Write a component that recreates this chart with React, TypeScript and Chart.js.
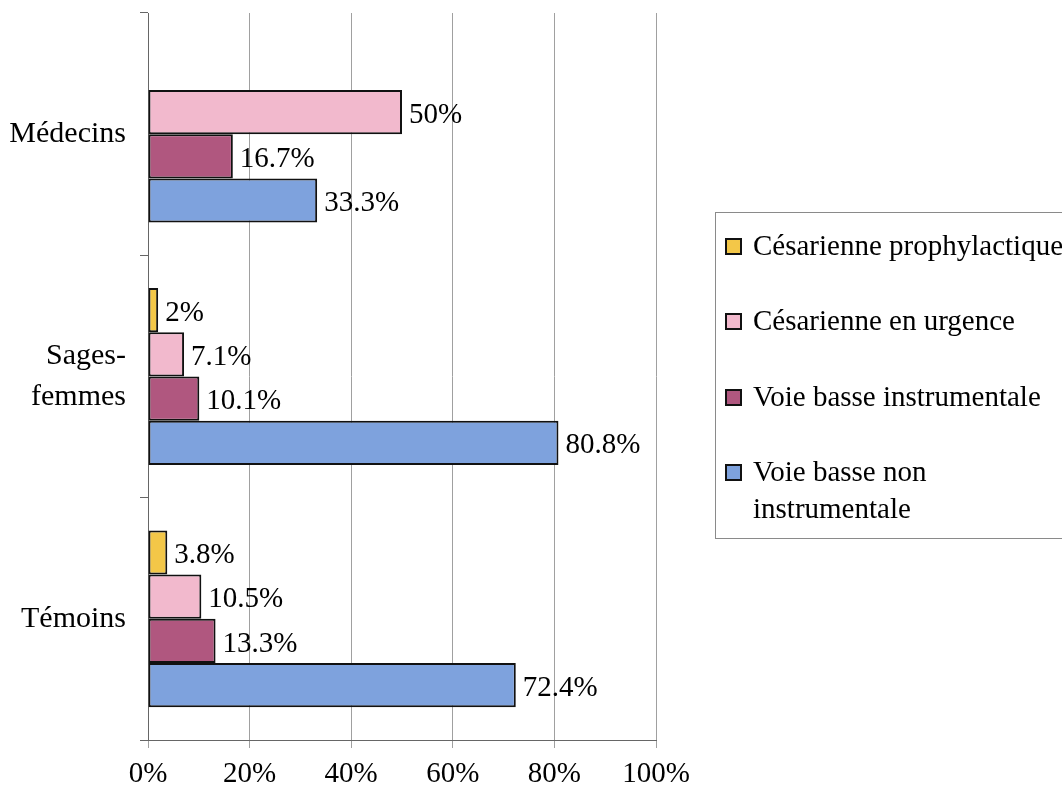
import React, { useEffect, useRef } from "react";
import { Chart, registerables } from "chart.js";

Chart.register(...registerables);

const categories: (string | string[])[] = ["Médecins", ["Sages-", "femmes"], "Témoins"];
const seriesNames = [
  "Césarienne prophylactique",
  "Césarienne en urgence",
  "Voie basse instrumentale",
  "Voie basse non instrumentale",
];
const legendLines: string[][] = [
  ["Césarienne prophylactique"],
  ["Césarienne en urgence"],
  ["Voie basse instrumentale"],
  ["Voie basse non", "instrumentale"],
];
const prophylactique = [0, 2, 3.8];
const urgence = [50, 7.1, 10.5];
const instrumentale = [16.7, 10.1, 13.3];
const nonInstrumentale = [33.3, 80.8, 72.4];
const xTicks = [0, 20, 40, 60, 80, 100];

const colors = ["#F3C748", "#F2B9CD", "#B0577F", "#7EA2DD"];
const FONT = "'Liberation Serif', 'Times New Roman', serif";
const FS = 29;

const labelPlugin = {
  id: "valueLabels",
  afterDatasetsDraw(chart: any) {
    const ctx = chart.ctx;
    ctx.save();
    ctx.font = `${FS}px ${FONT}`;
    ctx.fillStyle = "#000";
    ctx.textBaseline = "middle";
    ctx.textAlign = "left";
    chart.data.datasets.forEach((ds: any, di: number) => {
      const meta = chart.getDatasetMeta(di);
      meta.data.forEach((el: any, i: number) => {
        const v = ds.data[i];
        if (!v) return;
        ctx.fillText(`${v}%`, el.x + 7, el.y + 3);
      });
    });
    ctx.restore();
  },
};

const legendPlugin = {
  id: "boxLegend",
  afterDraw(chart: any) {
    const ctx = chart.ctx;
    ctx.save();
    ctx.strokeStyle = "#8a8a8a";
    ctx.lineWidth = 1;
    ctx.strokeRect(715.5, 212.5, 400, 326);
    ctx.font = `${FS}px ${FONT}`;
    ctx.textBaseline = "middle";
    ctx.textAlign = "left";
    const rowY = [247, 322, 398, 473];
    chart.data.datasets.forEach((ds: any, di: number) => {
      const y = rowY[di];
      ctx.fillStyle = ds.backgroundColor;
      ctx.fillRect(726, y - 8, 15, 15);
      ctx.strokeStyle = "#111";
      ctx.lineWidth = 2;
      ctx.strokeRect(726, y - 8, 15, 15);
      ctx.fillStyle = "#000";
      legendLines[di].forEach((line, li) => {
        ctx.fillText(line, 753, y + li * 37);
      });
    });
    ctx.restore();
  },
};

export default function App() {
  const ref = useRef<HTMLCanvasElement | null>(null);
  useEffect(() => {
    if (!ref.current) return;
    const series = [prophylactique, urgence, instrumentale, nonInstrumentale];
    const chart = new Chart(ref.current, {
      type: "bar",
      data: {
        labels: categories as any,
        datasets: series.map((d, i) => ({
          label: seriesNames[i],
          data: d,
          backgroundColor: colors[i],
          borderColor: "#111",
          borderWidth: 2,
          borderSkipped: false,
          categoryPercentage: 0.73,
          barPercentage: 1.0,
        })),
      },
      options: {
        indexAxis: "y",
        animation: false,
        responsive: false,
        maintainAspectRatio: false,
        layout: { padding: { top: 13, right: 406, left: 0, bottom: 0 } },
        plugins: {
          legend: { display: false },
          tooltip: { enabled: false },
        },
        scales: {
          x: {
            min: 0,
            max: 100,
            afterBuildTicks: (s: any) => {
              s.ticks = xTicks.map((v) => ({ value: v }));
            },
            afterFit: (s: any) => {
              s.height = 63;
              s.paddingLeft = 0;
              s.paddingRight = 0;
            },
            ticks: {
              callback: (v: any) => `${v}%`,
              color: "#000",
              font: { family: FONT, size: FS },
              padding: 9,
              maxRotation: 0,
            },
            grid: {
              color: "#a0a0a0",
              lineWidth: 1,
              tickLength: 8,
              drawTicks: true,
            },
            border: { color: "#666", width: 1 },
          },
          y: {
            afterFit: (s: any) => {
              s.width = 148;
              s.paddingTop = 0;
              s.paddingBottom = 0;
            },
            ticks: {
              color: "#000",
              font: { family: FONT, size: 30, lineHeight: 1.35 },
              padding: 14,
            },
            grid: {
              drawOnChartArea: false,
              drawTicks: true,
              tickLength: 8,
              color: "#666",
              offset: true,
            },
            border: { color: "#666", width: 1 },
          },
        },
      },
      plugins: [labelPlugin, legendPlugin],
    });
    return () => chart.destroy();
  }, []);
  return (
    <div style={{ position: "fixed", left: 0, top: 0, width: 1062, height: 803, background: "#fff" }}>
      <canvas ref={ref} width={1062} height={803} style={{ width: 1062, height: 803 }} />
    </div>
  );
}
